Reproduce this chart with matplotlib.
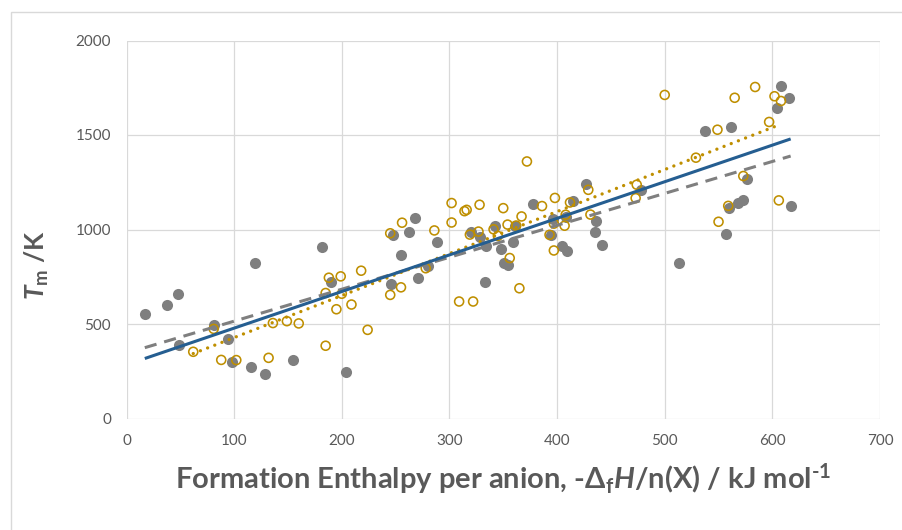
import matplotlib
matplotlib.use("Agg")
import matplotlib.pyplot as plt
from matplotlib.patches import Rectangle
import numpy as np

plt.rcParams['font.family'] = ['Lato', 'DejaVu Sans']
plt.rcParams['mathtext.fontset'] = 'custom'
plt.rcParams['mathtext.rm'] = 'Lato:bold'
plt.rcParams['mathtext.bf'] = 'Lato:bold'
plt.rcParams['mathtext.it'] = 'Lato:italic:bold'
plt.rcParams['mathtext.bfit'] = 'Lato:italic:bold'

# filled grey series: -dfH/n(X) (kJ/mol), Tm (K)
filled_x = [17, 38, 48, 49, 81, 94, 98, 116, 119, 129, 155, 182, 190, 204,
            246, 248, 255, 262, 268, 271, 280, 288, 320, 328, 333, 334, 342,
            348, 351, 354, 359, 361, 378, 394, 396, 405, 408, 409, 415, 427,
            436, 435, 442, 478, 513, 537, 557, 560, 562, 568, 573, 576, 604,
            608, 615, 617]
filled_y = [551, 599, 661, 390, 497, 420, 298, 275, 825, 234, 309, 908, 724,
            244, 712, 971, 865, 986, 1059, 743, 806, 935, 987, 959, 721, 915,
            1017, 898, 825, 814, 933, 1021, 1136, 973, 1056, 912, 1068, 885,
            1152, 1240, 1045, 989, 920, 1207, 825, 1521, 977, 1113, 1542,
            1139, 1154, 1269, 1645, 1759, 1698, 1126]

# open gold series
open_x = [62, 81, 88, 102, 132, 136, 149, 160, 185, 185, 188, 195, 199, 200,
          209, 218, 224, 245, 245, 255, 256, 278, 286, 302, 302, 309, 314,
          316, 319, 322, 327, 328, 341, 345, 350, 354, 356, 362, 365, 367,
          372, 386, 393, 397, 397, 398, 407, 408, 412, 429, 431, 473, 474,
          500, 529, 549, 550, 559, 565, 573, 584, 597, 602, 606, 608]
open_y = [353, 474, 310, 309, 321, 505, 515, 503, 385, 664, 745, 578, 752,
          660, 603, 782, 469, 980, 654, 694, 1036, 795, 995, 1140, 1037, 619,
          1097, 1104, 973, 619, 989, 1131, 1001, 966, 1113, 1026, 849, 1021,
          689, 1069, 1360, 1124, 972, 889, 1031, 1167, 1020, 1078, 1143, 1210,
          1079, 1166, 1237, 1712, 1380, 1528, 1041, 1125, 1697, 1283, 1754,
          1569, 1705, 1154, 1680]

x_ticks = [0, 100, 200, 300, 400, 500, 600, 700]
y_ticks = [0, 500, 1000, 1500, 2000]

GREY = '#7f7f7f'
GOLD = '#bf8f00'
BLUE = '#255e91'
TEXT = '#595959'


def trend(ax, x, y, **kw):
    """least squares line over the x range of the data, like an Excel trendline"""
    x = np.asarray(x, float)
    y = np.asarray(y, float)
    m, c = np.polyfit(x, y, 1)
    xs = np.array([x.min(), x.max()])
    ax.plot(xs, m * xs + c, zorder=4, **kw)


fig = plt.figure(figsize=(9.02, 5.30), dpi=100)
ax = fig.add_axes([126.5 / 902, 1 - 418.5 / 530, 753.5 / 902, 378 / 530])

ax.scatter(filled_x, filled_y, s=64, color=GREY, linewidths=0, zorder=3)
ax.scatter(open_x, open_y, s=42, facecolors='none', edgecolors=GOLD,
           linewidths=1.15, zorder=3)

trend(ax, filled_x, filled_y, color=GREY, lw=2.2, linestyle=(0, (4, 2.6)))
trend(ax, open_x, open_y, color=GOLD, lw=2.4, linestyle=(0, (0.01, 2.3)),
      dash_capstyle='round')
trend(ax, filled_x + open_x, filled_y + open_y, color=BLUE, lw=2.2,
      solid_capstyle='butt')

ax.set_xlim(0, 700)
ax.set_ylim(0, 2000)
ax.set_xticks(x_ticks)
ax.set_yticks(y_ticks)
ax.grid(True, color='#d9d9d9', lw=0.9, zorder=0)
ax.set_axisbelow(True)
for s in ax.spines.values():
    s.set_visible(False)
ax.tick_params(length=0, labelsize=11, labelcolor=TEXT)
ax.tick_params(axis='x', pad=11)
ax.tick_params(axis='y', pad=11)

ax.set_xlabel(r'Formation Enthalpy per anion, -$\Delta_\mathrm{f}\mathit{H}$/n(X) / kJ mol$^\text{-1}$',
              fontsize=21, fontweight='bold', color=TEXT, labelpad=10)
ax.set_ylabel(r'$\mathit{T}_\mathrm{m}$ /K', fontsize=19, fontweight='bold',
              color=TEXT)
ax.yaxis.set_label_coords(-0.1, 0.405)

fig.add_artist(Rectangle((11 / 902, -0.1), 2, 1.1 - 12 / 530, transform=fig.transFigure,
                         fill=False, edgecolor='#d9d9d9', lw=1))

fig.savefig('out.png', dpi=100, facecolor='white')
